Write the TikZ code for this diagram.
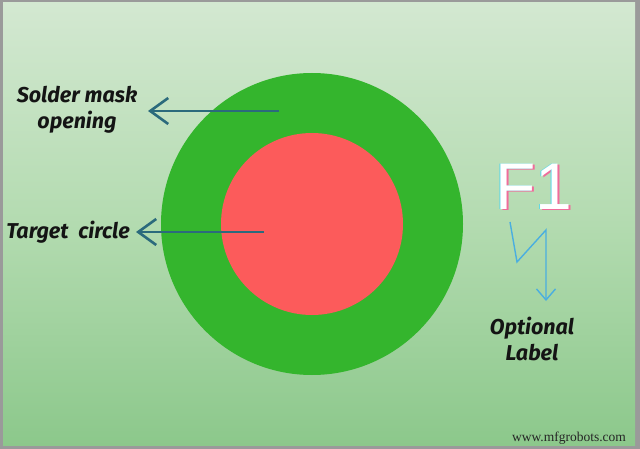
\documentclass[tikz,border=0pt]{standalone}
\usepackage{fontspec}
\setmainfont{Fira Sans}
\newfontfamily\wmfont{Liberation Serif}
\newfontfamily\ffont{Liberation Sans}
\usetikzlibrary{arrows.meta}
\definecolor{bgtop}{HTML}{D3E8D1}
\definecolor{bgmid}{HTML}{B3DBB0}
\definecolor{bgbot}{HTML}{8CC88B}
\definecolor{ringgreen}{HTML}{34B52D}
\definecolor{targetred}{HTML}{FC5B5B}
\definecolor{arrowteal}{HTML}{2B6A7C}
\definecolor{zigblue}{HTML}{4AAEE0}
\definecolor{framegray}{HTML}{9A9A9A}
\definecolor{fpink}{HTML}{F06C9B}
\definecolor{fcyan}{HTML}{5FD8E8}
\tikzset{
  lbl/.style={font=\fontsize{21.5}{26}\selectfont\bfseries\itshape, text=black!92, align=center, inner sep=0pt},
  pointer/.style={draw=arrowteal, line width=2.6pt, -{Straight Barb[length=18pt,width=26pt,line width=2.6pt]}},
  zig/.style={draw=zigblue, line width=1.4pt, line join=miter, -{Straight Barb[length=11pt,width=19pt,line width=1.4pt]}},
  fone/.style={font=\fontsize{66}{66}\selectfont\ffont, inner sep=0pt},
}
\begin{document}
\begin{tikzpicture}[x=1pt,y=-1pt]
  \useasboundingbox (0,0) rectangle (640,449);
  % frame and background
  \fill[framegray] (0,0) rectangle (640,449);
  \shade[top color=bgtop, bottom color=bgbot, middle color=bgmid] (3,3) rectangle (635,445);
  % rings
  \node[circle, fill=ringgreen, minimum size=302pt, inner sep=0pt] (ring) at (312,224) {};
  \node[circle, fill=targetred, minimum size=182pt, inner sep=0pt] (target) at (312,224) {};
  % labels
  \node[lbl] (smtext) at (77,110) {Solder mask\\opening};
  \node[lbl] (tctext) at (68,232) {Target\ \ circle};
  \node[lbl] (oltext) at (532,339) {Optional\\Label};
  % pointers
  \coordinate (smstart) at (279,111);
  \coordinate (smend) at (148,111);
  \coordinate (tcstart) at (264,232);
  \coordinate (tcend) at (136,232);
  \draw[pointer] (smstart) -- (smend);
  \draw[pointer] (tcstart) -- (tcend);
  % F1 label with coloured offset copies
  \node[fone, text=white] (fone) at (534,187)
    {\rlap{\kern1.6pt\raisebox{-0.8pt}{\color{fpink}F1}}\rlap{\kern-1.4pt\color{fcyan}F1}F1};
  % zigzag arrow
  \coordinate (z1) at (510,222);
  \coordinate (z2) at (517,262);
  \coordinate (z3) at (546,230);
  \coordinate (z4) at (546,301);
  \draw[zig] (z1) -- (z2) -- (z3) -- (z4);
  % watermark
  \node[font=\fontsize{13.5}{13.5}\selectfont\wmfont, text=black!85, inner sep=0pt] (wm) at (569,438) {www.mfgrobots.com};
\end{tikzpicture}
\end{document}
